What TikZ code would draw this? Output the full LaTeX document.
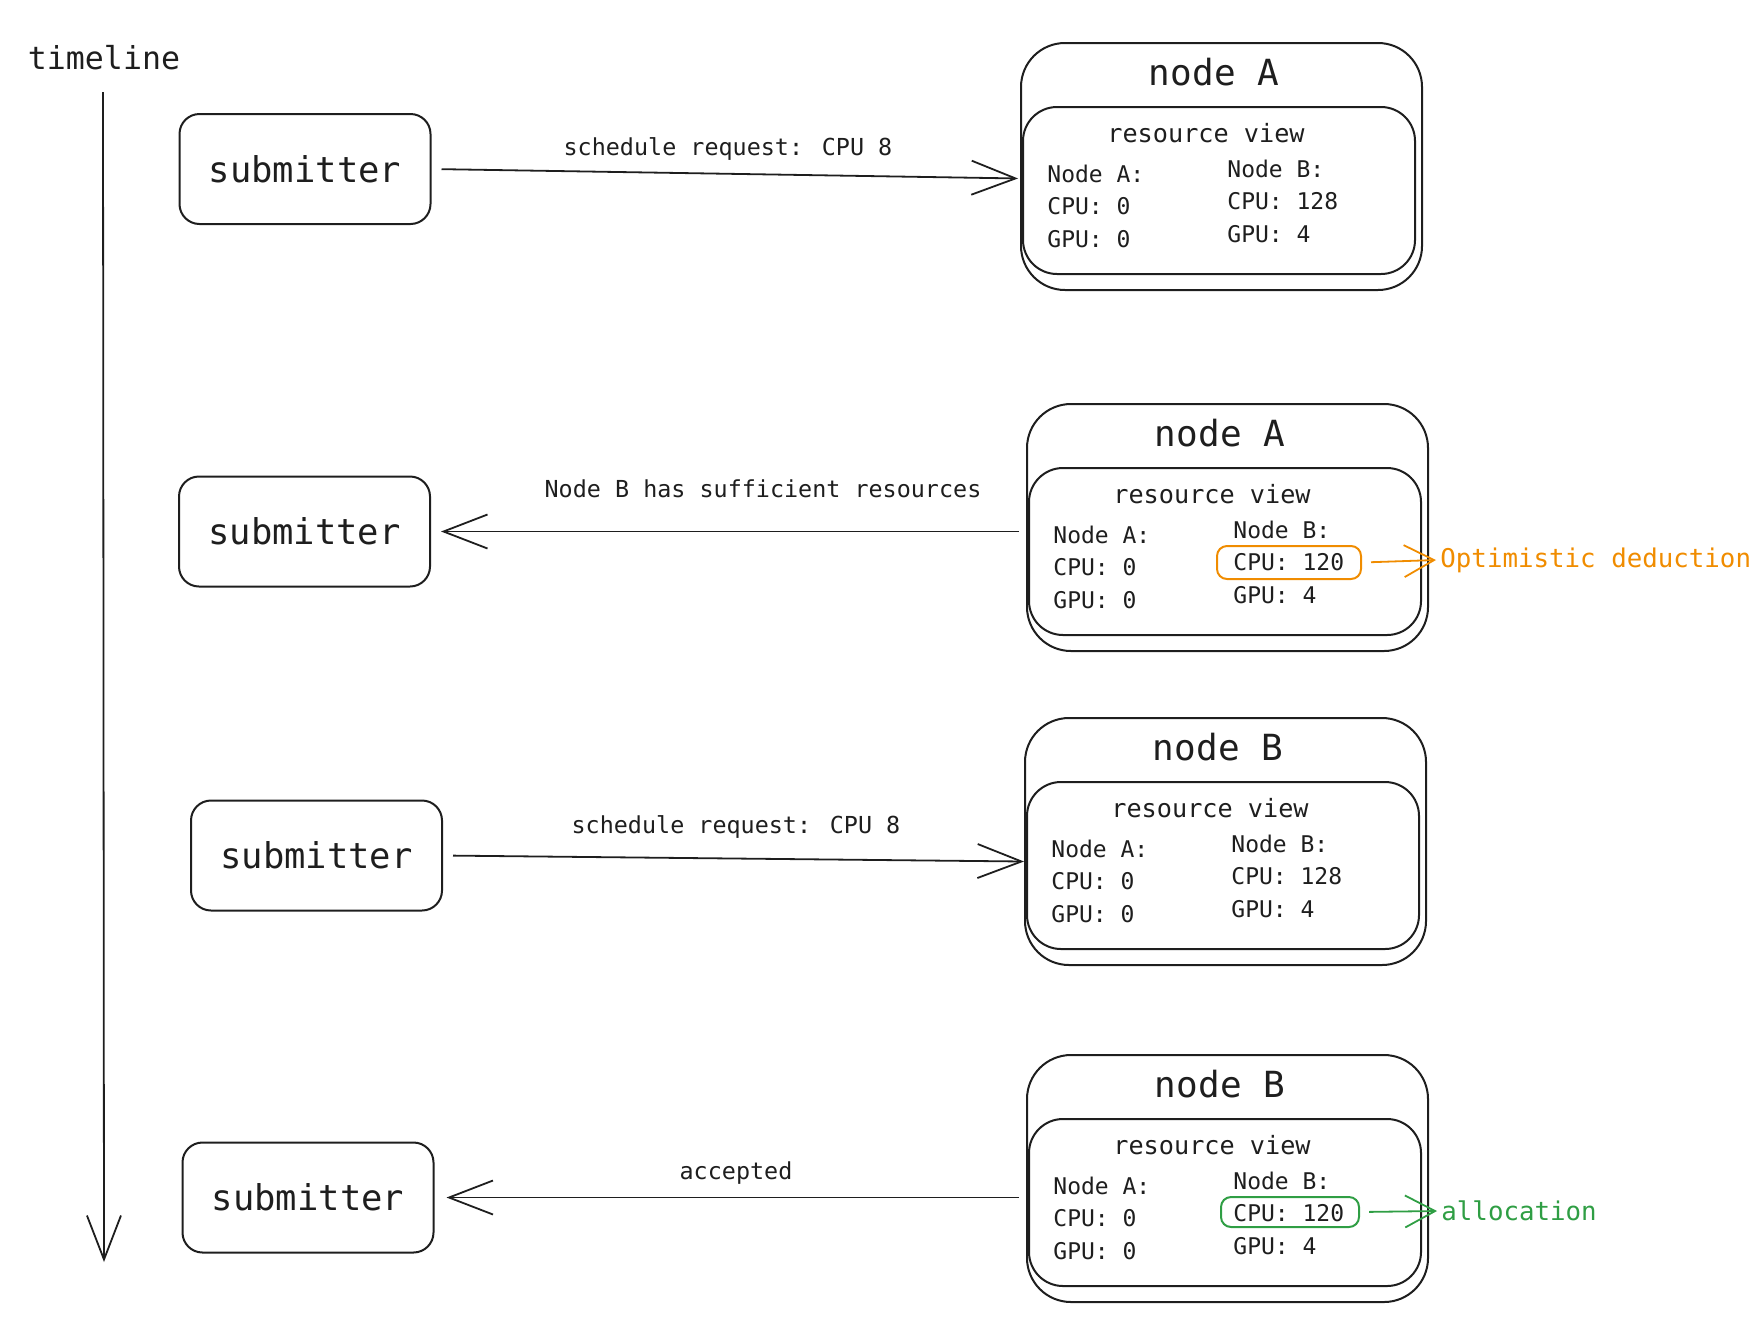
\documentclass[tikz,border=0pt]{standalone}
\usepackage{fontspec}
\setmainfont{DejaVu Sans Mono}
\usetikzlibrary{arrows.meta}
\definecolor{ink}{HTML}{1E1E1E}
\definecolor{exorange}{HTML}{F08C00}
\definecolor{exgreen}{HTML}{2F9E44}
\tikzset{
  sub/.style={draw=ink, line width=1pt, rounded corners=10pt, minimum width=125.5pt, minimum height=55pt, inner sep=0pt, text=ink, font=\fontsize{17.75pt}{20pt}\selectfont},
  outerbox/.style={draw=ink, line width=1pt, rounded corners=22pt, minimum width=200.5pt, minimum height=123.5pt, inner sep=0pt},
  innerbox/.style={draw=ink, line width=1pt, rounded corners=17pt, minimum width=196pt, minimum height=83.5pt, inner sep=0pt},
  titletext/.style={text=ink, inner sep=0pt, font=\fontsize{18pt}{20pt}\selectfont},
  rvtext/.style={text=ink, inner sep=0pt, font=\fontsize{12.6pt}{14pt}\selectfont},
  coltext/.style={text=ink, inner sep=0pt, align=left, font=\fontsize{11.5pt}{16.25pt}\selectfont},
  lbl/.style={text=ink, inner sep=0pt, font=\fontsize{11.7pt}{14pt}\selectfont},
  arr/.style={draw=ink, line width=0.9pt, -{Straight Barb[length=22pt,width=17pt]}},
  hlbox/.style={draw=#1, line width=1pt, rounded corners=5pt, inner sep=0pt},
  harr/.style={draw=#1, line width=0.9pt, -{Straight Barb[length=15pt,width=16pt]}},
  htext/.style={text=#1, inner sep=2pt, font=\fontsize{12.9pt}{15pt}\selectfont},
}
\newcommand\resbox[5]{%
  \begin{scope}[shift={(#2,#3)}]
    \node[outerbox, anchor=north west] (#1) at (0,0) {};
    \node[innerbox, anchor=north west] (#1in) at (2,64) {};
    \node[titletext] (#1t) at (194,30) {#4};
    \node[rvtext] (#1rv) at (186,91) {resource view};
    \node[coltext, anchor=west] (#1a) at (27,164) {Node A:\\CPU: 0\\GPU: 0};
    \node[coltext, anchor=west] (#1b) at (207,159) {Node B:\\CPU: #5\\GPU: 4};
  \end{scope}}
\begin{document}
\begin{tikzpicture}[x=0.5pt,y=-0.5pt]
\useasboundingbox (0,0) rectangle (1764,1328);
% timeline
\node[text=ink, inner sep=0pt, font=\fontsize{15.8pt}{18pt}\selectfont] (tl) at (104,58) {timeline};
\coordinate (tstart) at (103,92);
\coordinate (tend) at (104,1262);
\draw[arr] (tstart) -- (tend);
% submitters
\node[sub] (s1) at (305,169) {submitter};
\node[sub] (s2) at (304.5,531.5) {submitter};
\node[sub] (s3) at (316.5,855.5) {submitter};
\node[sub] (s4) at (308,1197.5) {submitter};
% resource boxes
\resbox{n1}{1020}{42}{node A}{128}
\resbox{n2}{1026}{403}{node A}{120}
\resbox{n3}{1024}{717}{node B}{128}
\resbox{n4}{1026}{1054}{node B}{120}
% connectors
\draw[arr, shorten <=5pt, shorten >=1pt] (s1.east) -- ([yshift=-6pt]n1.west);
\node[lbl] (l1) at (728,149) {schedule request: CPU 8};
\draw[arr, shorten <=3.5pt, shorten >=5pt] (n2.west |- s2.east) -- (s2.east);
\node[lbl] (l2) at (763,489) {Node B has sufficient resources};
\draw[arr, shorten <=5pt] (s3.east) -- ([yshift=-10pt]n3.west);
\node[lbl] (l3) at (736,827) {schedule request: CPU 8};
\draw[arr, shorten <=3.5pt, shorten >=6pt] (n4.west |- s4.east) -- (s4.east);
\node[lbl] (l4) at (736,1173) {accepted};
% highlights
\node[hlbox=exorange, minimum width=72pt, minimum height=16.5pt] (o1) at (1289,562.5) {};
\node[htext=exorange, anchor=west] (opt) at (1436,560) {Optimistic deduction};
\draw[harr=exorange, shorten <=4.5pt] (o1.east) -- (opt.west);
\node[hlbox=exgreen, minimum width=69pt, minimum height=15pt] (g1) at (1290,1212) {};
\node[htext=exgreen, anchor=west] (alloc) at (1437,1211) {allocation};
\draw[harr=exgreen, shorten <=4.5pt] (g1.east) -- (alloc.west);
\end{tikzpicture}
\end{document}
